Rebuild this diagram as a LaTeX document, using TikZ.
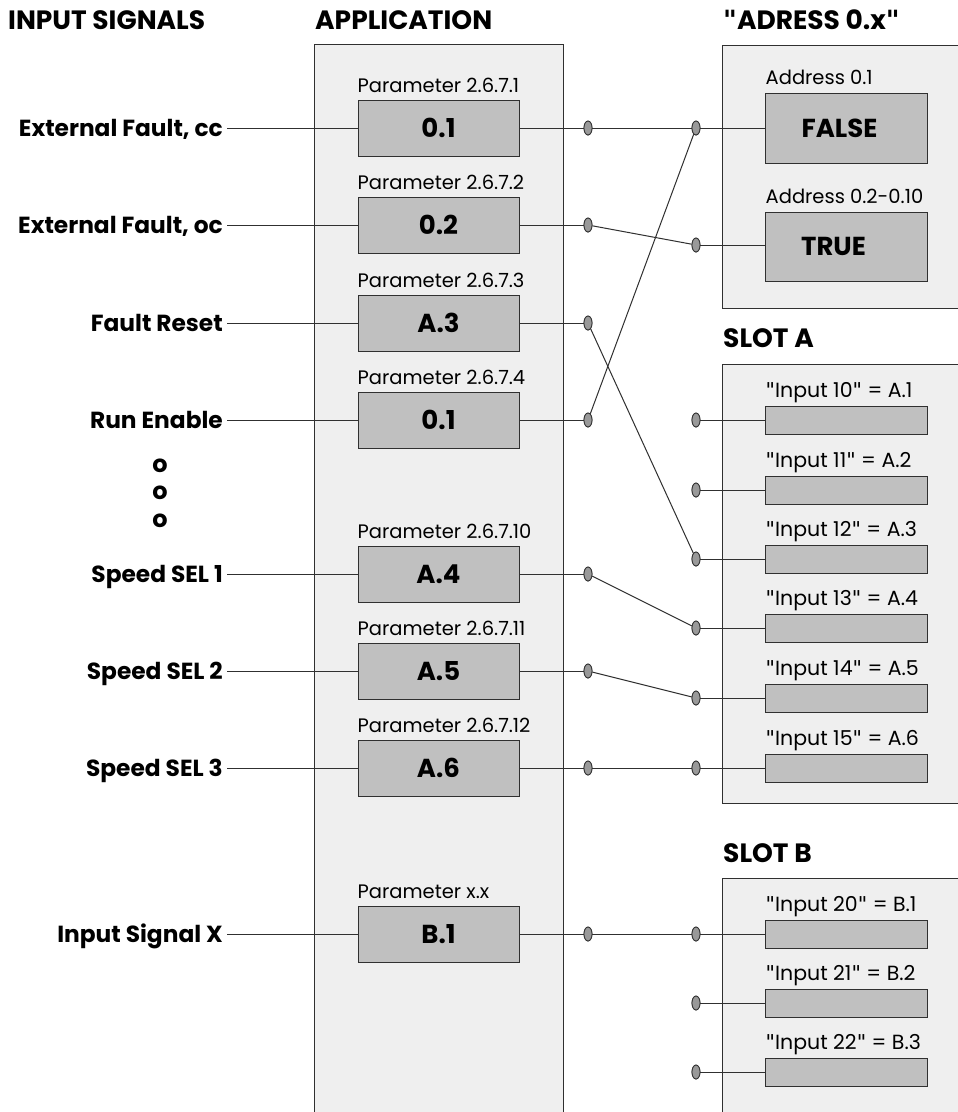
\documentclass[tikz,border=0pt]{standalone}
\usepackage{fontspec}
\setmainfont{Poppins}
\newfontfamily\qtfont{DejaVu Sans}
\newcommand{\sq}{{\qtfont\symbol{34}}}
\newcommand{\bsq}{{\qtfont\bfseries\symbol{34}}}
\usetikzlibrary{shapes.geometric,calc}
\definecolor{panel}{HTML}{EFEFEF}
\definecolor{boxfill}{HTML}{C0C0C0}
\definecolor{portfill}{HTML}{999999}
\definecolor{edge}{HTML}{303030}
\tikzset{
  panelbox/.style={draw=edge, fill=panel, line width=1pt},
  parbox/.style={draw=edge, fill=boxfill, line width=1pt, minimum width=161pt, minimum height=56pt, inner sep=0pt, font=\bfseries\fontsize{26}{26}\selectfont},
  valbox/.style={draw=edge, fill=boxfill, line width=1pt, minimum width=162pt, minimum height=70pt, inner sep=0pt, font=\bfseries\fontsize{26}{26}\selectfont},
  slotbox/.style={draw=edge, fill=boxfill, line width=1pt, minimum width=162pt, minimum height=28pt, inner sep=0pt},
  port/.style={ellipse, draw=edge, fill=portfill, line width=0.8pt, minimum width=8pt, minimum height=14pt, inner sep=0pt},
  siglabel/.style={anchor=east, inner sep=4pt, text height=17pt, text depth=0pt, font=\bfseries\fontsize{23.3}{23.3}\selectfont},
  title/.style={anchor=west, inner sep=0pt, text height=18pt, text depth=0pt, font=\bfseries\fontsize{26.5}{26.5}\selectfont},
  smalllabel/.style={anchor=base west, inner sep=0pt, font=\fontsize{19.5}{19.5}\selectfont},
  inlabel/.style={anchor=base west, inner sep=0pt, font=\fontsize{20.5}{20.5}\selectfont},
  wire/.style={draw=edge, line width=1pt},
  dotmark/.style={inner sep=0pt, font=\bfseries\fontsize{24}{24}\selectfont}
}
\begin{document}
\begin{tikzpicture}[x=1pt,y=-1pt]
\useasboundingbox (0,0) rectangle (958,1112);
\clip (0,0) rectangle (958,1112);
\fill[white] (0,0) rectangle (958,1112);

% titles
\node[title] (tin) at (8,20) {INPUT SIGNALS};
\node[title] (tapp) at (315,20) {APPLICATION};
\node[title] (tadr) at (723,20) {\bsq ADRESS 0.x\bsq};
\node[title] (tsa) at (723,338) {SLOT A};
\node[title] (tsb) at (723,853) {SLOT B};

% panels
\draw[panelbox] (314,44) rectangle (563,1130);
\draw[panelbox] (722,45) rectangle (980,308);
\draw[panelbox] (722,364) rectangle (980,803);
\draw[panelbox] (722,878) rectangle (980,1130);

% signal labels
\node[siglabel] (s1) at (227,128) {External Fault, cc};
\node[siglabel] (s2) at (227,225) {External Fault, oc};
\node[siglabel] (s3) at (227,323) {Fault Reset};
\node[siglabel] (s4) at (227,420) {Run Enable};
\node[siglabel] (s5) at (227,574) {Speed SEL 1};
\node[siglabel] (s6) at (227,671) {Speed SEL 2};
\node[siglabel] (s7) at (227,768) {Speed SEL 3};
\node[siglabel] (s8) at (227,934) {Input Signal X};

\node[dotmark] (d1) at (160,466) {o};
\node[dotmark] (d2) at (160,493) {o};
\node[dotmark] (d3) at (160,521) {o};

% parameter boxes
\node[parbox] (b1) at (438.5,128) {0.1};
\node[parbox] (b2) at (438.5,225) {0.2};
\node[parbox] (b3) at (438.5,323) {A.3};
\node[parbox] (b4) at (438.5,420) {0.1};
\node[parbox] (b5) at (438.5,574) {A.4};
\node[parbox] (b6) at (438.5,671) {A.5};
\node[parbox] (b7) at (438.5,768) {A.6};
\node[parbox] (b8) at (438.5,934) {B.1};

\node[smalllabel] (pl1) at ($(b1.north west)+(0,-7)$) {Parameter 2.6.7.1};
\node[smalllabel] (pl2) at ($(b2.north west)+(0,-7)$) {Parameter 2.6.7.2};
\node[smalllabel] (pl3) at ($(b3.north west)+(0,-7)$) {Parameter 2.6.7.3};
\node[smalllabel] (pl4) at ($(b4.north west)+(0,-7)$) {Parameter 2.6.7.4};
\node[smalllabel] (pl5) at ($(b5.north west)+(0,-7)$) {Parameter 2.6.7.10};
\node[smalllabel] (pl6) at ($(b6.north west)+(0,-7)$) {Parameter 2.6.7.11};
\node[smalllabel] (pl7) at ($(b7.north west)+(0,-7)$) {Parameter 2.6.7.12};
\node[smalllabel] (pl8) at ($(b8.north west)+(0,-7)$) {Parameter x.x};

% address boxes
\node[valbox] (vf) at (846,128) {\hspace*{-13pt}FALSE};
\node[valbox, minimum height=69pt] (vt) at (846,246.5) {\hspace*{-25pt}TRUE};
\node[smalllabel] (al1) at ($(vf.north west)+(1,-8)$) {Address 0.1};
\node[smalllabel] (al2) at ($(vt.north west)+(1,-8)$) {Address 0.2-0.10};

% slot A inputs
\node[slotbox] (ia1) at (846,420) {};
\node[slotbox] (ia2) at (846,490) {};
\node[slotbox] (ia3) at (846,559) {};
\node[slotbox] (ia4) at (846,628) {};
\node[slotbox] (ia5) at (846,698) {};
\node[slotbox] (ia6) at (846,768) {};
\node[inlabel] (la1) at ($(ia1.north west)+(1,-8)$) {\sq Input 10\sq{} = A.1};
\node[inlabel] (la2) at ($(ia2.north west)+(1,-8)$) {\sq Input 11\sq{} = A.2};
\node[inlabel] (la3) at ($(ia3.north west)+(1,-8)$) {\sq Input 12\sq{} = A.3};
\node[inlabel] (la4) at ($(ia4.north west)+(1,-8)$) {\sq Input 13\sq{} = A.4};
\node[inlabel] (la5) at ($(ia5.north west)+(1,-8)$) {\sq Input 14\sq{} = A.5};
\node[inlabel] (la6) at ($(ia6.north west)+(1,-8)$) {\sq Input 15\sq{} = A.6};

% slot B inputs
\node[slotbox] (ib1) at (846,934) {};
\node[slotbox] (ib2) at (846,1003) {};
\node[slotbox] (ib3) at (846,1072) {};
\node[inlabel] (lb1) at ($(ib1.north west)+(1,-8)$) {\sq Input 20\sq{} = B.1};
\node[inlabel] (lb2) at ($(ib2.north west)+(1,-8)$) {\sq Input 21\sq{} = B.2};
\node[inlabel] (lb3) at ($(ib3.north west)+(1,-8)$) {\sq Input 22\sq{} = B.3};

% ports: left column
\node[port] (o1) at (588,128) {};
\node[port] (o2) at (588,225) {};
\node[port] (o3) at (588,323) {};
\node[port] (o4) at (588,420) {};
\node[port] (o5) at (588,574) {};
\node[port] (o6) at (588,671) {};
\node[port] (o7) at (588,768) {};
\node[port] (o8) at (588,934) {};
% ports: right column
\node[port] (qf) at (696,128) {};
\node[port] (qt) at (696,245) {};
\node[port] (qa1) at (696,420) {};
\node[port] (qa2) at (696,490) {};
\node[port] (qa3) at (696,559) {};
\node[port] (qa4) at (696,628) {};
\node[port] (qa5) at (696,698) {};
\node[port] (qa6) at (696,768) {};
\node[port] (qb1) at (696,934) {};
\node[port] (qb2) at (696,1003) {};
\node[port] (qb3) at (696,1072) {};

% wires: inputs to parameter boxes
\foreach \i in {1,...,8} {
  \draw[wire] (s\i.east) -- (b\i.west);
  \draw[wire] (b\i.east) -- (o\i.west);
}
% wires: right ports to targets
\draw[wire] (qf.east) -- (vf.west);
\draw[wire] (qt.east) -- (vt.west |- qt.east);
\foreach \i in {1,...,6} { \draw[wire] (qa\i.east) -- (ia\i.west); }
\foreach \i in {1,...,3} { \draw[wire] (qb\i.east) -- (ib\i.west); }
% crossing connections
\draw[wire] (o1) -- (qf);
\draw[wire] (o2) -- (qt);
\draw[wire] (o3) -- (qa3);
\draw[wire] (o4) -- (qf);
\draw[wire] (o5) -- (qa4);
\draw[wire] (o6) -- (qa5);
\draw[wire] (o7) -- (qa6);
\draw[wire] (o8) -- (qb1);

% redraw ports on top
\foreach \n in {o1,o2,o3,o4,o5,o6,o7,o8,qf,qt,qa1,qa2,qa3,qa4,qa5,qa6,qb1,qb2,qb3} {
  \path[draw=edge, fill=portfill, line width=0.8pt] (\n.center) ellipse (4pt and 7pt);
}
\end{tikzpicture}
\end{document}
